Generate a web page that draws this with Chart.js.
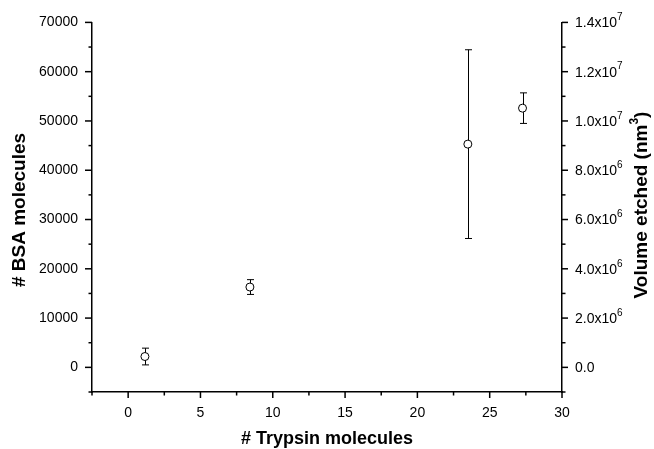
<!DOCTYPE html>
<html>
<head>
<meta charset="utf-8">
<script src="https://cdn.jsdelivr.net/npm/chart.js@4.4.0/dist/chart.umd.min.js"></script>
<style>
    html, body { margin: 0; padding: 0; background: #fff; }
    #wrap { width: 654px; height: 449px; }
</style>
</head>
<body>
<div id="wrap"><canvas id="bsaChart"></canvas></div>
<script>
// data
const trypsin = [1.16, 8.42, 23.49, 27.27];
const bsa = [2200, 16300, 45300, 52600];
const bsaErr = [1700, 1500, 19150, 3100];

// axes
const xTicks = [0, 5, 10, 15, 20, 25, 30];
const bsaTicks = [0, 10000, 20000, 30000, 40000, 50000, 60000, 70000];
const volumeTicks = [0, 2e6, 4e6, 6e6, 8e6, 1e7, 1.2e7, 1.4e7];
const volumeBase = ['0.0', '2.0x10', '4.0x10', '6.0x10', '8.0x10', '1.0x10', '1.2x10', '1.4x10'];
const volumeExp = ['', '6', '6', '6', '6', '7', '7', '7'];

const FONT = '"Liberation Sans", Arial, sans-serif';

// major ticks plus one minor tick between each pair (and one below the first)
function withMinor(majors) {
    const step = (majors[1] - majors[0]) / 2;
    const out = [majors[0] - step];
    majors.forEach(function (v, i) {
        out.push(v);
        if (i < majors.length - 1) out.push(v + step);
    });
    return out;
}

const errorBars = {
    id: 'errorBars',
    beforeDatasetsDraw(chart) {
        const ctx = chart.ctx;
        const xs = chart.scales.x, ys = chart.scales.y;
        ctx.save();
        ctx.strokeStyle = '#000';
        ctx.lineWidth = 1;
        trypsin.forEach(function (t, i) {
            const px = Math.round(xs.getPixelForValue(t)) + 0.5;
            const top = ys.getPixelForValue(bsa[i] + bsaErr[i]);
            const bot = ys.getPixelForValue(bsa[i] - bsaErr[i]);
            ctx.beginPath();
            ctx.moveTo(px, top); ctx.lineTo(px, bot);
            ctx.moveTo(px - 3.5, top); ctx.lineTo(px + 3.5, top);
            ctx.moveTo(px - 3.5, bot); ctx.lineTo(px + 3.5, bot);
            ctx.stroke();
        });
        ctx.restore();
    }
};

const axisDecor = {
    id: 'axisDecor',
    afterDraw(chart) {
        const ctx = chart.ctx;
        const a = chart.chartArea;
        ctx.save();
        ctx.strokeStyle = '#000';
        ctx.lineWidth = 1.5;
        // tick marks, majors longer than minors
        chart.scales.x.ticks.forEach(function (t) {
            const len = xTicks.includes(t.value) ? 6 : 3.5;
            const px = chart.scales.x.getPixelForValue(t.value);
            ctx.beginPath(); ctx.moveTo(px, a.bottom); ctx.lineTo(px, a.bottom + len); ctx.stroke();
        });
        chart.scales.y.ticks.forEach(function (t) {
            const len = bsaTicks.includes(t.value) ? 7 : 3.5;
            const py = chart.scales.y.getPixelForValue(t.value);
            ctx.beginPath(); ctx.moveTo(a.left, py); ctx.lineTo(a.left - len, py); ctx.stroke();
        });
        chart.scales.y2.ticks.forEach(function (t) {
            const len = volumeTicks.includes(t.value) ? 6 : 3.5;
            const py = chart.scales.y2.getPixelForValue(t.value);
            ctx.beginPath(); ctx.moveTo(a.right, py); ctx.lineTo(a.right + len, py); ctx.stroke();
        });

        ctx.fillStyle = '#000';

        // right tick labels with superscript exponents
        ctx.textAlign = 'left';
        ctx.textBaseline = 'middle';
        volumeTicks.forEach(function (v, i) {
            const py = chart.scales.y2.getPixelForValue(v);
            const x0 = a.right + 13;
            ctx.font = '14px ' + FONT;
            ctx.fillText(volumeBase[i], x0, py + 1);
            const w = ctx.measureText(volumeBase[i]).width;
            ctx.font = '10px ' + FONT;
            ctx.fillText(volumeExp[i], x0 + w, py - 5);
        });

        // axis titles
        ctx.textAlign = 'center';
        ctx.textBaseline = 'middle';
        ctx.font = 'bold 18px ' + FONT;
        ctx.fillText('# Trypsin molecules', (a.left + a.right) / 2, 439);

        ctx.save();
        ctx.translate(20, 210);
        ctx.rotate(-Math.PI / 2);
        ctx.font = 'bold 19px ' + FONT;
        ctx.fillText('# BSA molecules', 0, 0);
        ctx.restore();

        // right title with superscript 3
        ctx.save();
        ctx.translate(642, 205);
        ctx.rotate(-Math.PI / 2);
        ctx.textAlign = 'left';
        const main = 'Volume etched (nm';
        ctx.font = 'bold 19px ' + FONT;
        const w1 = ctx.measureText(main).width;
        const w3 = ctx.measureText(')').width;
        ctx.font = 'bold 12px ' + FONT;
        const w2 = ctx.measureText('3').width;
        const x0 = -(w1 + w2 + w3) / 2;
        ctx.font = 'bold 19px ' + FONT;
        ctx.fillText(main, x0, 0);
        ctx.font = 'bold 12px ' + FONT;
        ctx.fillText('3', x0 + w1, -7);
        ctx.font = 'bold 19px ' + FONT;
        ctx.fillText(')', x0 + w1 + w2, 0);
        ctx.restore();
        ctx.restore();
    }
};

const tickFont = { family: FONT, size: 14 };

new Chart(document.getElementById('bsaChart'), {
    type: 'scatter',
    data: {
        datasets: [{
            label: '# BSA molecules',
            data: trypsin.map(function (t, i) { return { x: t, y: bsa[i] }; }),
            pointRadius: 4,
            pointHoverRadius: 4,
            pointBackgroundColor: '#fff',
            pointBorderColor: '#000',
            pointBorderWidth: 1,
            yAxisID: 'y'
        }]
    },
    options: {
        responsive: true,
        maintainAspectRatio: false,
        animation: false,
        layout: { padding: { top: 19, left: 0, right: 0, bottom: 0 } },
        plugins: {
            legend: { display: false },
            tooltip: { enabled: false }
        },
        scales: {
            x: {
                type: 'linear',
                min: -2.5,
                max: 30,
                afterBuildTicks: function (s) { s.ticks = withMinor(xTicks).map(function (v) { return { value: v }; }); },
                afterFit: function (s) { s.height = 57; },
                grid: { display: false, drawTicks: false },
                border: { display: true, color: '#000', width: 1.5 },
                ticks: {
                    autoSkip: false,
                    maxRotation: 0,
                    padding: 13,
                    color: '#000',
                    font: tickFont,
                    callback: function (v) { return xTicks.includes(v) ? String(v) : ''; }
                }
            },
            y: {
                type: 'linear',
                position: 'left',
                min: -5000,
                max: 70000,
                afterBuildTicks: function (s) { s.ticks = withMinor(bsaTicks).map(function (v) { return { value: v }; }); },
                afterFit: function (s) { s.width = 92; },
                grid: { display: false, drawTicks: false },
                border: { display: true, color: '#000', width: 1.5 },
                ticks: {
                    autoSkip: false,
                    padding: 14,
                    color: '#000',
                    font: tickFont,
                    callback: function (v) { return bsaTicks.includes(v) ? String(v) : ''; }
                }
            },
            y2: {
                type: 'linear',
                position: 'right',
                display: true,
                min: -1e6,
                max: 1.4e7,
                afterBuildTicks: function (s) { s.ticks = withMinor(volumeTicks).map(function (v) { return { value: v }; }); },
                afterFit: function (s) { s.width = 92; },
                grid: { display: false, drawTicks: false },
                border: { display: true, color: '#000', width: 1.5 },
                ticks: {
                    autoSkip: false,
                    padding: 12,
                    color: 'rgba(0,0,0,0)',
                    font: tickFont,
                    callback: function () { return ''; }
                }
            }
        }
    },
    plugins: [errorBars, axisDecor]
});
</script>
</body>
</html>
